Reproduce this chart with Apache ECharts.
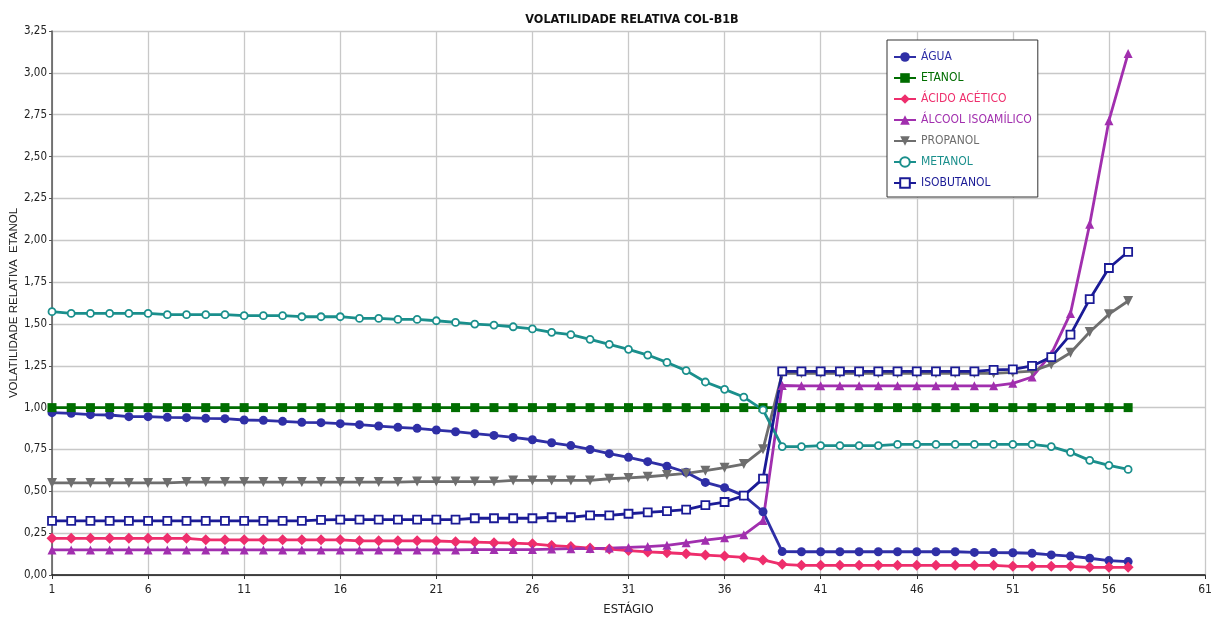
<!DOCTYPE html>
<html>
<head>
<meta charset="utf-8">
<title>Volatilidade relativa COL-B1B</title>
<script src="https://cdn.jsdelivr.net/npm/echarts@6/dist/echarts.min.js"></script>
<style>
  html, body { margin: 0; padding: 0; background: #ffffff; }
  #chart { width: 1219px; height: 619px; }
</style>
</head>
<body>
<div id="chart"></div>
<script>
// Estágios da coluna
const estagios = [
  1, 2, 3, 4, 5, 6, 7, 8, 9, 10, 11, 12, 13, 14, 15, 16, 17, 18, 19, 20,
  21, 22, 23, 24, 25, 26, 27, 28, 29, 30, 31, 32, 33, 34, 35, 36, 37, 38, 39, 40,
  41, 42, 43, 44, 45, 46, 47, 48, 49, 50, 51, 52, 53, 54, 55, 56, 57
];

// Volatilidade relativa ao etanol, por componente
const agua = [
  0.970, 0.966, 0.958, 0.956, 0.946, 0.946, 0.942, 0.940, 0.936, 0.934,
  0.926, 0.924, 0.918, 0.912, 0.910, 0.904, 0.898, 0.890, 0.882, 0.876,
  0.866, 0.856, 0.844, 0.834, 0.822, 0.808, 0.790, 0.773, 0.750, 0.725,
  0.703, 0.677, 0.650, 0.614, 0.553, 0.522, 0.474, 0.378, 0.140, 0.139,
  0.139, 0.139, 0.139, 0.139, 0.139, 0.139, 0.139, 0.139, 0.135, 0.134,
  0.133, 0.130, 0.120, 0.113, 0.100, 0.086, 0.080
];
const etanol = [
  1.00, 1.00, 1.00, 1.00, 1.00, 1.00, 1.00, 1.00, 1.00, 1.00,
  1.00, 1.00, 1.00, 1.00, 1.00, 1.00, 1.00, 1.00, 1.00, 1.00,
  1.00, 1.00, 1.00, 1.00, 1.00, 1.00, 1.00, 1.00, 1.00, 1.00,
  1.00, 1.00, 1.00, 1.00, 1.00, 1.00, 1.00, 1.00, 1.00, 1.00,
  1.00, 1.00, 1.00, 1.00, 1.00, 1.00, 1.00, 1.00, 1.00, 1.00,
  1.00, 1.00, 1.00, 1.00, 1.00, 1.00, 1.00
];
const acidoAcetico = [
  0.219, 0.219, 0.219, 0.219, 0.219, 0.219, 0.219, 0.219, 0.210, 0.210,
  0.210, 0.210, 0.210, 0.210, 0.210, 0.210, 0.204, 0.204, 0.204, 0.204,
  0.203, 0.199, 0.197, 0.193, 0.190, 0.186, 0.176, 0.170, 0.161, 0.155,
  0.146, 0.138, 0.133, 0.127, 0.119, 0.113, 0.105, 0.090, 0.064, 0.058,
  0.058, 0.058, 0.058, 0.058, 0.058, 0.058, 0.058, 0.058, 0.058, 0.058,
  0.052, 0.052, 0.052, 0.052, 0.046, 0.046, 0.046
];
const alcoolIsoamilico = [
  0.150, 0.150, 0.150, 0.150, 0.150, 0.150, 0.150, 0.150, 0.150, 0.150,
  0.150, 0.150, 0.150, 0.150, 0.150, 0.150, 0.150, 0.150, 0.150, 0.150,
  0.150, 0.150, 0.152, 0.152, 0.152, 0.152, 0.155, 0.157, 0.158, 0.161,
  0.165, 0.170, 0.177, 0.192, 0.208, 0.222, 0.240, 0.325, 1.132, 1.130,
  1.130, 1.130, 1.130, 1.130, 1.130, 1.130, 1.130, 1.130, 1.130, 1.130,
  1.145, 1.183, 1.320, 1.563, 2.095, 2.714, 3.116
];
const propanol = [
  0.550, 0.550, 0.550, 0.550, 0.550, 0.550, 0.550, 0.555, 0.555, 0.555,
  0.555, 0.555, 0.555, 0.555, 0.555, 0.555, 0.555, 0.555, 0.555, 0.558,
  0.558, 0.558, 0.558, 0.558, 0.565, 0.565, 0.565, 0.565, 0.565, 0.575,
  0.580, 0.587, 0.597, 0.607, 0.623, 0.641, 0.663, 0.752, 1.205, 1.205,
  1.205, 1.205, 1.205, 1.205, 1.205, 1.205, 1.205, 1.205, 1.205, 1.205,
  1.210, 1.218, 1.258, 1.328, 1.452, 1.558, 1.637
];
const metanol = [
  1.573, 1.563, 1.563, 1.563, 1.563, 1.563, 1.555, 1.555, 1.555, 1.555,
  1.549, 1.549, 1.549, 1.543, 1.543, 1.543, 1.533, 1.533, 1.527, 1.527,
  1.519, 1.509, 1.499, 1.493, 1.483, 1.470, 1.450, 1.436, 1.408, 1.378,
  1.348, 1.314, 1.270, 1.221, 1.153, 1.109, 1.063, 0.986, 0.767, 0.767,
  0.773, 0.773, 0.773, 0.773, 0.780, 0.780, 0.780, 0.780, 0.780, 0.780,
  0.780, 0.780, 0.767, 0.733, 0.685, 0.655, 0.631
];
const isobutanol = [
  0.323, 0.323, 0.323, 0.323, 0.323, 0.323, 0.323, 0.323, 0.323, 0.323,
  0.323, 0.323, 0.323, 0.323, 0.329, 0.331, 0.331, 0.331, 0.331, 0.331,
  0.331, 0.331, 0.339, 0.339, 0.339, 0.339, 0.345, 0.345, 0.356, 0.356,
  0.366, 0.374, 0.382, 0.390, 0.418, 0.436, 0.474, 0.576, 1.216, 1.216,
  1.216, 1.216, 1.216, 1.216, 1.216, 1.216, 1.216, 1.216, 1.216, 1.225,
  1.228, 1.249, 1.302, 1.436, 1.648, 1.834, 1.931
];

// Eixos
const xMin = 1, xMax = 61, xStep = 5;
const yMin = 0, yMax = 3.25, yStep = 0.25;

const narrow = "'Liberation Sans Narrow', 'DejaVu Sans Condensed', 'Liberation Sans', sans-serif";

// name, values, colour, symbol, size, hollow
const componentes = [
  ['ÁGUA', agua, '#2f2fa6', 'circle', 9, false],
  ['ETANOL', etanol, '#006d00', 'rect', 9, false],
  ['ÁCIDO ACÉTICO', acidoAcetico, '#ee2e6c', 'diamond', 11, false],
  ['ÁLCOOL ISOAMÍLICO', alcoolIsoamilico, '#a12fae', 'triangle', 9, false],
  ['PROPANOL', propanol, '#6e6e6e', 'path://M0,0 L10,0 L5,9 Z', 10, false],
  ['METANOL', metanol, '#1a8f8c', 'circle', 7, true],
  ['ISOBUTANOL', isobutanol, '#1b1b96', 'rect', 8, true]
];

const series = componentes.map(([name, values, color, symbol, size, hollow]) => ({
  name: name,
  type: 'line',
  data: estagios.map((s, i) => [s, values[i]]),
  symbol: symbol,
  symbolSize: size,
  showAllSymbol: true,
  lineStyle: { color: color, width: 2.8 },
  itemStyle: hollow
    ? { color: '#ffffff', borderColor: color, borderWidth: 1.8 }
    : { color: color, borderColor: color, borderWidth: 0 },
  emphasis: { disabled: true },
  animation: false
}));

const chart = echarts.init(document.getElementById('chart'), null, { renderer: 'canvas' });

chart.setOption({
  backgroundColor: '#ffffff',
  animation: false,
  title: {
    text: 'VOLATILIDADE RELATIVA COL-B1B',
    left: 627,
    textAlign: 'center',
    top: 8,
    textStyle: { fontFamily: narrow, fontWeight: 'bold', fontSize: 12.5, color: '#111111' }
  },
  legend: {
    left: 887,
    top: 40,
    orient: 'vertical',
    itemWidth: 22,
    itemHeight: 12,
    itemGap: 9,
    padding: [11, 6, 8, 6],
    borderColor: '#333333',
    borderWidth: 1,
    backgroundColor: '#ffffff',
    data: componentes.map(c => ({ name: c[0], textStyle: { color: c[2] } })),
    textStyle: { fontFamily: narrow, fontSize: 12 }
  },
  grid: { left: 52, right: 14, top: 31, bottom: 44, containLabel: false, outerBoundsMode: 'none' },
  xAxis: {
    type: 'value',
    min: xMin,
    max: xMax,
    interval: xStep,
    name: 'ESTÁGIO',
    nameLocation: 'middle',
    nameGap: 28,
    nameMoveOverlap: false,
    nameTextStyle: { fontFamily: narrow, fontSize: 13, color: '#222222' },
    axisLine: { lineStyle: { color: '#111111', width: 1.5 } },
    axisTick: { show: true, length: 4, lineStyle: { color: '#333333' } },
    axisLabel: { fontFamily: narrow, fontSize: 12, color: '#222222', margin: 9 },
    splitLine: { show: true, lineStyle: { color: '#c8c8c8', width: 1.3 } }
  },
  yAxis: {
    type: 'value',
    min: yMin,
    max: yMax,
    interval: yStep,
    name: 'VOLATILIDADE RELATIVA  ETANOL',
    nameLocation: 'middle',
    nameGap: 32,
    nameMoveOverlap: false,
    nameRotate: 90,
    nameTextStyle: { fontFamily: "'Liberation Sans', Arial, sans-serif", fontSize: 11.5, color: '#222222' },
    axisLine: { show: true, lineStyle: { color: '#555555', width: 1.5 } },
    axisTick: { show: true, length: 3, lineStyle: { color: '#555555' } },
    axisLabel: {
      fontFamily: narrow,
      fontSize: 11.5,
      color: '#222222',
      margin: 5,
      formatter: v => v.toFixed(2).replace('.', ',')
    },
    splitLine: { show: true, lineStyle: { color: '#c8c8c8', width: 1.3 } }
  },
  series: series
});
</script>
</body>
</html>
